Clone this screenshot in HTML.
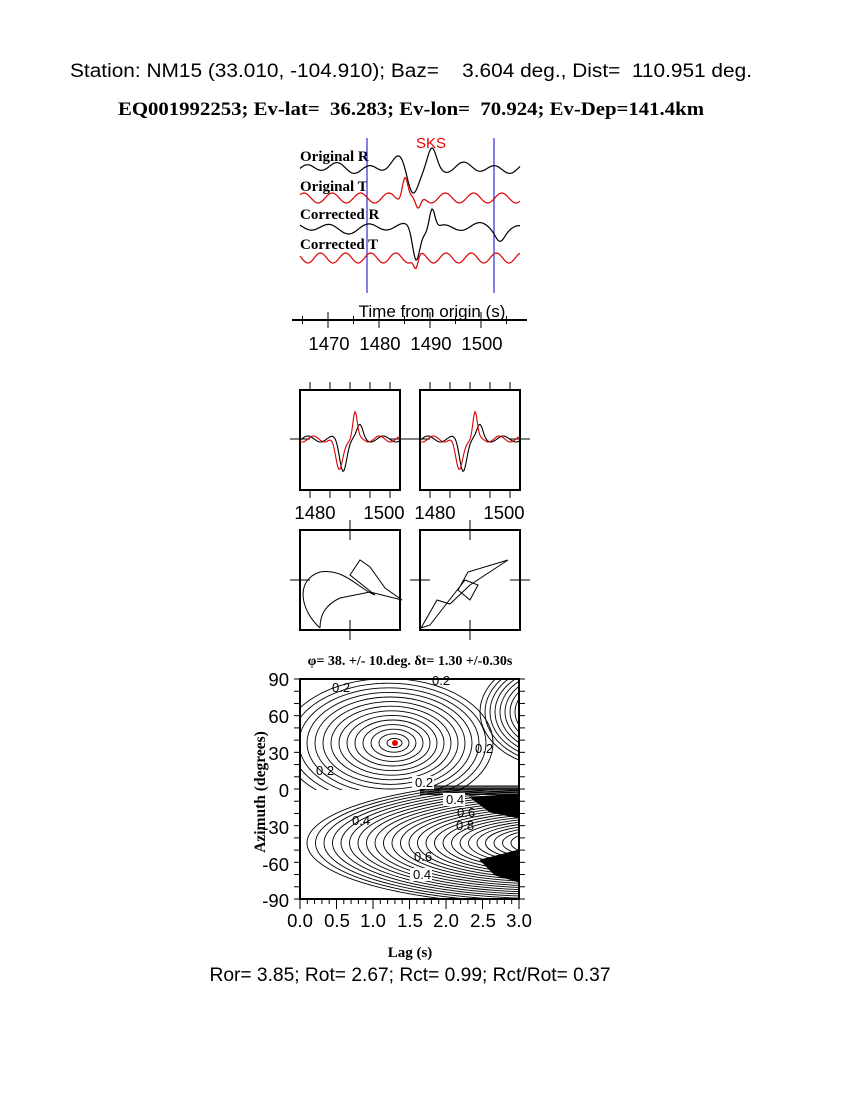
<!DOCTYPE html>
<html><head><meta charset="utf-8"><style>
body{margin:0;background:#fff;width:850px;height:1100px;overflow:hidden}
svg{position:absolute;left:0;top:0}
text{white-space:pre}
.s{font-family:"Liberation Sans",sans-serif}
.r{font-family:"Liberation Serif",serif;font-weight:bold}
</style></head><body>
<svg id="g" width="850" height="1100" xmlns="http://www.w3.org/2000/svg" xml:space="preserve">
<text class="s" x="70" y="77" font-size="19.6" textLength="682" lengthAdjust="spacingAndGlyphs">Station: NM15 (33.010, -104.910); Baz=    3.604 deg., Dist=  110.951 deg.</text>
<text class="r" x="118" y="115" font-size="19" textLength="586" lengthAdjust="spacingAndGlyphs">EQ001992253; Ev-lat=  36.283; Ev-lon=  70.924; Ev-Dep=141.4km</text>
<text class="s" x="431" y="148" font-size="15" fill="#e00" text-anchor="middle">SKS</text>
<g class="r" font-size="15"><text x="300" y="161">Original R</text><text x="300" y="191">Original T</text><text x="300" y="219">Corrected R</text><text x="300" y="249">Corrected T</text></g>
<line x1="367" y1="138" x2="367" y2="293" stroke="#00c"/><line x1="494" y1="138" x2="494" y2="293" stroke="#00c"/>
<g id="wf" fill="none" stroke-width="1.2"></g>
<line x1="292" y1="320" x2="527" y2="320" stroke="#000" stroke-width="2"/>
<g id="tk" stroke="#000"></g>
<text class="s" x="432" y="317" font-size="17" text-anchor="middle">Time from origin (s)</text>
<g class="s" font-size="18.5" text-anchor="middle"><text x="329" y="350">1470</text><text x="380" y="350">1480</text><text x="431" y="350">1490</text><text x="482" y="350">1500</text></g>
<g fill="none" stroke="#000" stroke-width="2"><rect x="300" y="390" width="100" height="100"/><rect x="420" y="390" width="100" height="100"/><rect x="300" y="530" width="100" height="100"/><rect x="420" y="530" width="100" height="100"/></g>
<g stroke="#000"><line x1="290" y1="439" x2="310" y2="439"/><line x1="390" y1="439" x2="410" y2="439"/><line x1="410" y1="439" x2="430" y2="439"/><line x1="510" y1="439" x2="530" y2="439"/>
<line x1="290" y1="580" x2="310" y2="580"/><line x1="410" y1="580" x2="430" y2="580"/><line x1="510" y1="580" x2="530" y2="580"/><line x1="350" y1="520" x2="350" y2="540"/><line x1="470" y1="520" x2="470" y2="540"/><line x1="350" y1="620" x2="350" y2="640"/><line x1="470" y1="620" x2="470" y2="640"/></g>
<g id="pt" stroke="#000"></g>
<g class="s" font-size="18.5" text-anchor="middle"><text x="315" y="519">1480</text><text x="384" y="519">1500</text><text x="435" y="519">1480</text><text x="504" y="519">1500</text></g>
<g id="mw" fill="none" stroke-width="1.1"></g>
<path d="M320,628 C300,610 295,580 320,572 C345,568 360,590 375,595 L350,575 L360,560 L370,567 L385,588 L402,600 L370,592 L340,598 C325,605 320,615 320,628" fill="none" stroke="#000"/>
<path d="M421,628 L437,600 L450,604 L470,585 L508,560 L468,572 L458,590 L470,600 L478,585 L465,580 L430,625 L421,628" fill="none" stroke="#000"/>
<text class="r" x="410" y="665" font-size="14" text-anchor="middle">φ= 38. +/- 10.deg. δt= 1.30 +/-0.30s</text>
<defs><clipPath id="cu"><rect x="300" y="679" width="219" height="111"/></clipPath><clipPath id="cl"><rect x="300" y="790" width="219" height="109"/></clipPath></defs>
<g id="cont" fill="none" stroke="#000" stroke-width="0.9"></g>
<circle cx="395" cy="743" r="3" fill="#e00"/>
<rect x="300" y="679" width="219" height="220" fill="none" stroke="#000" stroke-width="2"/>
<g id="ct" stroke="#000"></g>
<g fill="#fff" class="s" font-size="13"><rect x="412" y="776" width="22" height="13"/><rect x="443" y="793" width="22" height="13"/><rect x="410" y="868" width="22" height="13"/></g>
<g class="s" font-size="13"><text x="415" y="787">0.2</text><text x="446" y="804">0.4</text><text x="457" y="817">0.6</text><text x="456" y="830">0.8</text><text x="413" y="879">0.4</text><text x="414" y="861">0.6</text><text x="332" y="692">0.2</text><text x="432" y="685">0.2</text><text x="316" y="775">0.2</text><text x="475" y="753">0.2</text><text x="352" y="825">0.4</text></g>
<g class="s" font-size="18.5" text-anchor="end"><text x="289" y="686">90</text><text x="289" y="723">60</text><text x="289" y="760">30</text><text x="289" y="797">0</text><text x="289" y="834">-30</text><text x="289" y="871">-60</text><text x="289" y="907">-90</text></g>
<g class="s" font-size="18.5" text-anchor="middle"><text x="300" y="927">0.0</text><text x="337" y="927">0.5</text><text x="373" y="927">1.0</text><text x="410" y="927">1.5</text><text x="446" y="927">2.0</text><text x="483" y="927">2.5</text><text x="519" y="927">3.0</text></g>
<text class="r" x="410" y="957" font-size="15" text-anchor="middle">Lag (s)</text>
<text class="r" x="0" y="0" font-size="15.5" text-anchor="middle" transform="translate(265,792) rotate(-90)">Azimuth (degrees)</text>
<text class="s" x="410" y="981" font-size="19.2" text-anchor="middle">Ror= 3.85; Rot= 2.67; Rct= 0.99; Rct/Rot= 0.37</text>
</svg>
<script>
var NS="http://www.w3.org/2000/svg";
function el(p,t,a){var e=document.createElementNS(NS,t);for(var k in a)e.setAttribute(k,a[k]);document.getElementById(p).appendChild(e);return e;}
function wave(x0,x1,y,f,col,g){var d="";for(var x=x0;x<=x1;x++){d+=(x==x0?"M":"L")+x+","+(y+f(x)).toFixed(1);}el(g,"path",{d:d,stroke:col});}
function g(x,c,w,a){return a*Math.exp(-Math.pow((x-c)/w,2));}
wave(300,520,168,function(x){return 4*Math.sin(x/5)+2*Math.sin(x/11)+g(x,412,8,25)-g(x,432,6,18)+g(x,400,12,-8)},"#000","wf");
wave(300,520,198,function(x){return 5*Math.sin(x/4.5)-g(x,405,4,25)+g(x,418,4,15)},"#d00","wf");
wave(300,520,228,function(x){return 4*Math.sin(x/6)+2*Math.sin(x/13)+g(x,416,5,30)-g(x,432,4,22)+g(x,500,6,8)},"#000","wf");
wave(300,520,258,function(x){return 5*Math.sin(x/4)+g(x,416,3,12)},"#d00","wf");
for(var t=1465;t<=1505;t+=5){var x=328+(t-1470)*5.1;el("tk","line",{x1:x,y1:t%10==0?312:316,x2:x,y2:t%10==0?328:324});}
[0,1].forEach(function(i){var o=i*120;for(var k=0;k<5;k++){var x=310+o+k*20;el("pt","line",{x1:x,y1:382,x2:x,y2:390});el("pt","line",{x1:x,y1:490,x2:x,y2:498});}
wave(300+o,400+o,439,function(x){x-=o;return -3*Math.sin(x/4)+g(x,343,5,30)-g(x,360,4,12)},"#000","mw");
wave(300+o,400+o,439,function(x){x-=o;return -3*Math.sin(x/3.5)+g(x,339,5,32)-g(x,355,3,25)},"#d00","mw");});
for(var i=1;i<=14;i++){el("cont","ellipse",{cx:395-i*0.5,cy:743,rx:i*7.5,ry:i*4.6,"clip-path":"url(#cu)"});}
for(var i=1;i<=16;i++){el("cont","ellipse",{cx:560,cy:712,rx:i*5,ry:i*3.5,"clip-path":"url(#cu)"});}
for(var i=1;i<=28;i++){el("cont","ellipse",{cx:545,cy:843,rx:i*8.5,ry:i*2.1+3,"clip-path":"url(#cl)"});}
for(var i=0;i<8;i++){el("cont","line",{x1:420,y1:786+i*1.2,x2:519,y2:786+i*1.2});}
el("cont","path",{d:"M470,797 L519,795 L519,818 L490,812 Z",fill:"#000"});
el("cont","path",{d:"M480,860 L519,850 L519,882 L495,875 Z",fill:"#000"});
for(var a=0;a<=180;a+=10){var y=679+a*220/180;el("ct","line",{x1:294,y1:y,x2:300,y2:y});el("ct","line",{x1:519,y1:y,x2:525,y2:y});}
for(var l=0;l<=3.01;l+=0.1){var x=300+l*73;el("ct","line",{x1:x,y1:899,x2:x,y2:Math.abs(l*2-Math.round(l*2))<0.01?909:904});}
</script>
</body></html>
